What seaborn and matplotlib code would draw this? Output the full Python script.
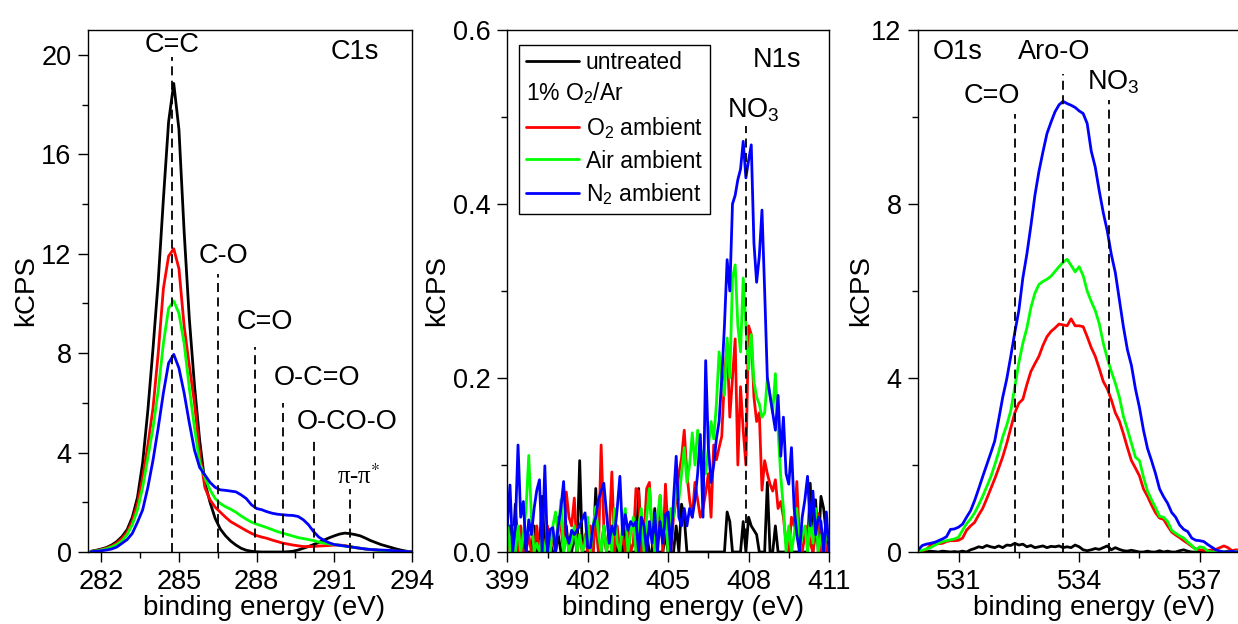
import matplotlib
matplotlib.use('Agg')
import matplotlib.pyplot as plt
from matplotlib.lines import Line2D
from matplotlib.text import Text
from matplotlib.legend_handler import HandlerBase
from matplotlib.ticker import MultipleLocator, FormatStrFormatter
import pandas as pd
import seaborn as sns

# ---------------- data ----------------
samples = ['untreated', 'O$_2$ ambient', 'Air ambient', 'N$_2$ ambient']
treatment_note = '1% O$_2$/Ar'
colors = ['#000000', '#ff0000', '#00ff00', '#0000ff']

c1s_energy = [281.6, 281.8, 282.0, 282.2, 282.4, 282.6, 282.8, 283.0, 283.2, 283.4,
              283.6, 283.8, 284.0, 284.2, 284.4, 284.6, 284.8, 285.0, 285.2, 285.4,
              285.6, 285.8, 286.0, 286.2, 286.4, 286.6, 286.8, 287.0, 287.2, 287.4,
              287.6, 287.8, 288.0, 288.2, 288.4, 288.6, 288.8, 289.0, 289.2, 289.4,
              289.6, 289.8, 290.0, 290.2, 290.4, 290.6, 290.8, 291.0, 291.2, 291.4,
              291.6, 291.8, 292.0, 292.2, 292.4, 292.6, 292.8, 293.0, 293.2, 293.4,
              293.6, 293.8, 294.0]
c1s_untreated = [0.03, 0.07, 0.12, 0.18, 0.28, 0.42, 0.62, 0.9, 1.4, 2.2,
                 3.6, 5.7, 8.2, 10.9, 14.2, 17.3, 18.85, 17.0, 12.9, 9.4,
                 6.7, 4.5, 2.8, 2.0, 1.35, 0.92, 0.65, 0.44, 0.28, 0.15,
                 0.07, 0.03, 0.01, 0.0, 0.0, 0.0, 0.0, 0.0, 0.01, 0.03,
                 0.08, 0.15, 0.22, 0.3, 0.38, 0.48, 0.57, 0.65, 0.72, 0.76,
                 0.74, 0.7, 0.65, 0.56, 0.46, 0.38, 0.3, 0.24, 0.18, 0.12,
                 0.07, 0.03, 0.01]
c1s_o2 = [0.02, 0.05, 0.1, 0.15, 0.24, 0.36, 0.55, 0.8, 1.25, 1.95,
          3.0, 4.3, 5.8, 8.0, 10.6, 11.9, 12.2, 11.4, 9.1, 7.5,
          6.0, 4.0, 2.6, 2.1, 1.8, 1.6, 1.4, 1.22, 1.1, 0.98,
          0.86, 0.75, 0.66, 0.6, 0.55, 0.48, 0.42, 0.36, 0.32, 0.28,
          0.25, 0.22, 0.22, 0.22, 0.24, 0.25, 0.26, 0.28, 0.28, 0.26,
          0.22, 0.18, 0.15, 0.12, 0.1, 0.08, 0.06, 0.05, 0.04, 0.03,
          0.02, 0.01, 0.0]
c1s_air = [0.02, 0.04, 0.08, 0.13, 0.2, 0.3, 0.45, 0.7, 1.1, 1.7,
           2.6, 3.8, 5.0, 6.5, 8.4, 9.8, 10.1, 9.6, 8.4, 6.6,
           5.0, 3.6, 3.0, 2.5, 2.15, 1.95, 1.82, 1.72, 1.6, 1.45,
           1.32, 1.2, 1.12, 1.05, 0.98, 0.9, 0.82, 0.76, 0.7, 0.64,
           0.58, 0.54, 0.5, 0.46, 0.4, 0.36, 0.32, 0.3, 0.27, 0.24,
           0.21, 0.18, 0.15, 0.12, 0.1, 0.08, 0.06, 0.05, 0.04, 0.03,
           0.02, 0.01, 0.0]
c1s_n2 = [0.01, 0.03, 0.05, 0.08, 0.12, 0.2, 0.35, 0.5, 0.75, 1.2,
          1.7, 2.6, 3.7, 5.0, 6.4, 7.6, 7.95, 7.4, 6.4, 5.2,
          4.1, 3.4, 3.1, 2.8, 2.6, 2.5, 2.48, 2.45, 2.42, 2.3,
          2.15, 1.9, 1.75, 1.7, 1.62, 1.56, 1.52, 1.5, 1.48, 1.47,
          1.43, 1.3, 1.1, 0.82, 0.6, 0.47, 0.37, 0.3, 0.27, 0.24,
          0.21, 0.18, 0.15, 0.12, 0.1, 0.09, 0.08, 0.07, 0.06, 0.04,
          0.03, 0.02, 0.0]

n1s_energy = [399.0, 399.1, 399.2, 399.3, 399.4, 399.5, 399.6, 399.7, 399.8, 399.9,
              400.0, 400.1, 400.2, 400.3, 400.4, 400.5, 400.6, 400.7, 400.8, 400.9,
              401.0, 401.1, 401.2, 401.3, 401.4, 401.5, 401.6, 401.7, 401.8, 401.9,
              402.0, 402.1, 402.2, 402.3, 402.4, 402.5, 402.6, 402.7, 402.8, 402.9,
              403.0, 403.1, 403.2, 403.3, 403.4, 403.5, 403.6, 403.7, 403.8, 403.9,
              404.0, 404.1, 404.2, 404.3, 404.4, 404.5, 404.6, 404.7, 404.8, 404.9,
              405.0, 405.1, 405.2, 405.3, 405.4, 405.5, 405.6, 405.7, 405.8, 405.9,
              406.0, 406.1, 406.2, 406.3, 406.4, 406.5, 406.6, 406.7, 406.8, 406.9,
              407.0, 407.1, 407.2, 407.3, 407.4, 407.5, 407.6, 407.7, 407.8, 407.9,
              408.0, 408.1, 408.2, 408.3, 408.4, 408.5, 408.6, 408.7, 408.8, 408.9,
              409.0, 409.1, 409.2, 409.3, 409.4, 409.5, 409.6, 409.7, 409.8, 409.9,
              410.0, 410.1, 410.2, 410.3, 410.4, 410.5, 410.6, 410.7, 410.8, 410.9,
              411.0]
n1s_untreated = [0.02, 0.03, 0.0, 0.055, 0.0, 0.0, 0.02, 0.0, 0.0, 0.0,
                 0.03, 0.0, 0.0, 0.064, 0.0, 0.0, 0.01, 0.0, 0.0, 0.02,
                 0.0, 0.0, 0.03, 0.0, 0.0, 0.02, 0.0, 0.105, 0.0, 0.0,
                 0.0, 0.02, 0.0, 0.073, 0.0, 0.0, 0.03, 0.0, 0.0, 0.0,
                 0.02, 0.0, 0.0, 0.0, 0.04, 0.0, 0.0, 0.0, 0.0, 0.073,
                 0.0, 0.0, 0.02, 0.0, 0.0, 0.05, 0.0, 0.0, 0.0, 0.02,
                 0.0, 0.0, 0.0, 0.03, 0.0, 0.055, 0.04, 0.0, 0.0, 0.0,
                 0.0, 0.0, 0.0, 0.0, 0.0, 0.0, 0.0, 0.0, 0.0, 0.0,
                 0.0, 0.0, 0.046, 0.035, 0.0, 0.0, 0.0, 0.0, 0.035, 0.0,
                 0.04, 0.03, 0.025, 0.02, 0.0, 0.0, 0.0, 0.08, 0.0, 0.0,
                 0.03, 0.0, 0.0, 0.0, 0.0, 0.0, 0.0, 0.0, 0.0, 0.0,
                 0.0, 0.0, 0.0, 0.079, 0.0, 0.06, 0.0, 0.064, 0.05, 0.02,
                 0.0]
n1s_o2 = [0.03, 0.0, 0.0, 0.02, 0.0, 0.03, 0.0, 0.0, 0.02, 0.0,
          0.0, 0.03, 0.0, 0.01, 0.0, 0.03, 0.0, 0.02, 0.0, 0.04,
          0.03, 0.0, 0.069, 0.04, 0.03, 0.062, 0.0, 0.02, 0.0, 0.02,
          0.0, 0.03, 0.0, 0.04, 0.0, 0.123, 0.03, 0.0, 0.02, 0.092,
          0.0, 0.03, 0.0, 0.02, 0.0, 0.03, 0.0, 0.01, 0.073, 0.07,
          0.0, 0.02, 0.073, 0.08, 0.02, 0.0, 0.02, 0.065, 0.0, 0.078,
          0.02, 0.0, 0.04, 0.06, 0.09, 0.108, 0.14, 0.09, 0.06, 0.04,
          0.08, 0.06, 0.04, 0.05, 0.068, 0.09, 0.04, 0.123, 0.106, 0.12,
          0.133, 0.2, 0.24, 0.155, 0.2, 0.245, 0.1, 0.19, 0.14, 0.1,
          0.26, 0.25, 0.178, 0.15, 0.16, 0.071, 0.105, 0.09, 0.078, 0.07,
          0.083, 0.05, 0.058, 0.04, 0.01, 0.0, 0.04, 0.03, 0.081, 0.01,
          0.0, 0.02, 0.03, 0.01, 0.0, 0.02, 0.044, 0.0, 0.02, 0.0,
          0.0]
n1s_air = [0.04, 0.0, 0.029, 0.0, 0.03, 0.0, 0.02, 0.05, 0.111, 0.04,
           0.0, 0.01, 0.0, 0.02, 0.0, 0.01, 0.0, 0.03, 0.046, 0.02,
           0.06, 0.0, 0.02, 0.0, 0.01, 0.03, 0.0, 0.02, 0.0, 0.01,
           0.04, 0.0, 0.03, 0.052, 0.02, 0.0, 0.03, 0.0, 0.02, 0.0,
           0.05, 0.01, 0.0, 0.03, 0.05, 0.0, 0.02, 0.04, 0.0, 0.03,
           0.05, 0.0, 0.04, 0.073, 0.03, 0.0, 0.04, 0.065, 0.02, 0.04,
           0.0, 0.05, 0.04, 0.073, 0.06, 0.09, 0.12, 0.08, 0.1, 0.137,
           0.1, 0.14, 0.12, 0.11, 0.09, 0.12, 0.15, 0.13, 0.17, 0.23,
           0.2, 0.18, 0.246, 0.2, 0.315, 0.33, 0.26, 0.23, 0.315, 0.26,
           0.21, 0.25, 0.196, 0.178, 0.17, 0.155, 0.16, 0.2, 0.18, 0.16,
           0.205, 0.14, 0.087, 0.05, 0.0, 0.03, 0.0, 0.02, 0.05, 0.0,
           0.02, 0.03, 0.0, 0.04, 0.01, 0.05, 0.0, 0.02, 0.0, 0.03,
           0.0]
n1s_n2 = [0.03, 0.077, 0.0, 0.03, 0.123, 0.04, 0.058, 0.0, 0.037, 0.02,
          0.05, 0.071, 0.083, 0.0, 0.099, 0.0, 0.026, 0.028, 0.0, 0.03,
          0.05, 0.081, 0.02, 0.01, 0.025, 0.02, 0.025, 0.03, 0.038, 0.045,
          0.005, 0.005, 0.03, 0.04, 0.06, 0.07, 0.079, 0.045, 0.01, 0.03,
          0.02, 0.05, 0.087, 0.02, 0.043, 0.025, 0.035, 0.03, 0.035, 0.0,
          0.04, 0.03, 0.0, 0.035, 0.01, 0.045, 0.0, 0.035, 0.01, 0.043,
          0.046, 0.0, 0.06, 0.11, 0.04, 0.03, 0.05, 0.03, 0.05, 0.04,
          0.06, 0.09, 0.135, 0.04, 0.22, 0.12, 0.08, 0.1, 0.13, 0.15,
          0.2, 0.26, 0.336, 0.3, 0.4, 0.41, 0.428, 0.44, 0.472, 0.43,
          0.45, 0.468, 0.355, 0.31, 0.34, 0.393, 0.3, 0.2, 0.18, 0.16,
          0.14, 0.18, 0.11, 0.155, 0.09, 0.078, 0.12, 0.05, 0.02, 0.0,
          0.04, 0.06, 0.087, 0.03, 0.07, 0.02, 0.04, 0.035, 0.0, 0.046,
          0.0]

o1s_energy = [530.0, 530.1, 530.2, 530.3, 530.4, 530.5, 530.6, 530.7, 530.8, 530.9,
              531.0, 531.1, 531.2, 531.3, 531.4, 531.5, 531.6, 531.7, 531.8, 531.9,
              532.0, 532.1, 532.2, 532.3, 532.4, 532.5, 532.6, 532.7, 532.8, 532.9,
              533.0, 533.1, 533.2, 533.3, 533.4, 533.5, 533.6, 533.7, 533.8, 533.9,
              534.0, 534.1, 534.2, 534.3, 534.4, 534.5, 534.6, 534.7, 534.8, 534.9,
              535.0, 535.1, 535.2, 535.3, 535.4, 535.5, 535.6, 535.7, 535.8, 535.9,
              536.0, 536.1, 536.2, 536.3, 536.4, 536.5, 536.6, 536.7, 536.8, 536.9,
              537.0, 537.1, 537.2, 537.3, 537.4, 537.5, 537.6, 537.7, 537.8, 537.9,
              538.0]
o1s_untreated = [0.02, 0.01, 0.0, 0.02, 0.01, 0.0, 0.02, 0.01, 0.0, 0.01,
                 0.0, 0.02, 0.0, 0.05, 0.08, 0.12, 0.1, 0.15, 0.12, 0.1,
                 0.14, 0.1, 0.16, 0.15, 0.2, 0.16, 0.18, 0.12, 0.15, 0.1,
                 0.12, 0.14, 0.1, 0.13, 0.12, 0.14, 0.1, 0.12, 0.1, 0.16,
                 0.12, 0.05, 0.03, 0.05, 0.08, 0.06, 0.1, 0.14, 0.05, 0.1,
                 0.06, 0.03, 0.02, 0.04, 0.02, 0.0, 0.0, 0.02, 0.0, 0.0,
                 0.03, 0.0, 0.02, 0.0, 0.0, 0.03, 0.05, 0.02, 0.0, 0.0,
                 0.0, 0.02, 0.0, 0.0, 0.03, 0.0, 0.0, 0.02, 0.0, 0.0,
                 0.0]
o1s_o2 = [0.0, 0.02, 0.06, 0.15, 0.22, 0.19, 0.2, 0.24, 0.26, 0.26,
          0.27, 0.32, 0.5, 0.6, 0.68, 0.85, 1.0, 1.22, 1.45, 1.68,
          1.93, 2.19, 2.5, 2.85, 3.2, 3.42, 3.51, 3.85, 4.15, 4.33,
          4.5, 4.75, 4.95, 5.07, 5.15, 5.24, 5.22, 5.2, 5.36, 5.2,
          5.2, 5.18, 4.95, 4.7, 4.5, 4.22, 3.92, 3.75, 3.5, 3.2,
          3.01, 2.72, 2.4, 2.1, 1.93, 1.75, 1.45, 1.28, 1.08, 0.9,
          0.78, 0.75, 0.6, 0.46, 0.39, 0.33, 0.26, 0.2, 0.13, 0.07,
          0.05, 0.04, 0.03, 0.05, 0.06, 0.1, 0.14, 0.1, 0.03, 0.05,
          0.04]
o1s_air = [0.02, 0.04, 0.07, 0.1, 0.15, 0.2, 0.24, 0.26, 0.28, 0.3,
           0.34, 0.5, 0.65, 0.76, 0.9, 1.08, 1.28, 1.5, 1.72, 2.0,
           2.3, 2.65, 2.92, 3.25, 3.8, 4.35, 4.8, 5.15, 5.62, 5.95,
           6.15, 6.22, 6.27, 6.34, 6.45, 6.56, 6.66, 6.73, 6.59, 6.44,
           6.56, 6.35, 6.0, 5.76, 5.55, 5.25, 4.8, 4.45, 4.15, 3.88,
           3.56, 3.12, 2.82, 2.5, 2.18, 2.1, 1.72, 1.4, 1.2, 1.02,
           0.82, 0.8, 0.7, 0.5, 0.43, 0.37, 0.32, 0.23, 0.15, 0.05,
           0.12, 0.1, 0.02, 0.0, 0.0, 0.02, 0.0, 0.0, 0.0, 0.01,
           0.0]
o1s_n2 = [0.05, 0.15, 0.18, 0.2, 0.22, 0.26, 0.3, 0.35, 0.52, 0.53,
          0.57, 0.64, 0.8, 0.95, 1.18, 1.45, 1.73, 2.0, 2.27, 2.55,
          3.05, 3.56, 3.98, 4.5, 5.05, 5.55, 6.3, 6.85, 7.5, 8.2,
          8.75, 9.2, 9.62, 9.88, 10.12, 10.28, 10.36, 10.31, 10.27, 10.22,
          10.14, 10.08, 9.85, 9.22, 8.85, 8.3, 7.8, 7.38, 6.84, 6.42,
          5.8, 5.18, 4.65, 4.29, 3.75, 3.32, 2.8, 2.38, 2.1, 1.8,
          1.45, 1.27, 1.12, 0.91, 0.8, 0.62, 0.52, 0.47, 0.32, 0.27,
          0.26, 0.24, 0.17, 0.11, 0.05, 0.02, 0.0, 0.0, 0.02, 0.0,
          0.0]

# peak assignments: label, energy, top of dashed marker
c1s_marks = ['C=C', 'C-O', 'C=O', 'O-C=O', 'O-CO-O', 'π-π$^{*}$']
c1s_mark_energy = [284.75, 286.5, 287.92, 289.0, 290.2, 291.6]
c1s_mark_top = [19.9, 11.2, 8.25, 6.0, 4.55, 2.55]
n1s_mark_energy = [407.92]
n1s_mark_top = [0.49]
o1s_marks = ['C=O', 'Aro-O', 'NO$_3$']
o1s_mark_energy = [532.41, 533.61, 534.73]
o1s_mark_top = [10.08, 11.0, 10.4]

# ---------------- style ----------------
sns.set_style('ticks', rc={'axes.edgecolor': 'black', 'xtick.color': 'black',
                           'ytick.color': 'black', 'text.color': 'black',
                           'axes.labelcolor': 'black'})
plt.rcParams['font.family'] = ['Liberation Sans', 'DejaVu Sans']
plt.rcParams['mathtext.fontset'] = 'custom'
plt.rcParams['mathtext.rm'] = 'Liberation Sans'
plt.rcParams['mathtext.it'] = 'Liberation Sans:italic'
plt.rcParams['mathtext.bf'] = 'Liberation Sans:bold'

W, H = 1238, 624
fig = plt.figure(figsize=(W / 100, H / 100), dpi=100)
ax1 = fig.add_axes([88.3 / W, 72 / H, 323.7 / W, 522 / H])
ax2 = fig.add_axes([507.3 / W, 72 / H, 321.7 / W, 522 / H])
ax3 = fig.add_axes([918.3 / W, 72 / H, 321.7 / W, 522 / H])

LW = 2.0


def long_df(energy, series):
    parts = [pd.DataFrame({'E': energy, 'kCPS': vals, 'sample': name})
             for name, vals in zip(samples, series)]
    return pd.concat(parts, ignore_index=True)


panels = [
    (ax1, long_df(c1s_energy, [c1s_untreated, c1s_o2, c1s_air, c1s_n2]), (281.5, 294), (0, 21), 4, -0.1517, 0.543),
    (ax2, long_df(n1s_energy, [n1s_untreated, n1s_o2, n1s_air, n1s_n2]), (399, 411), (0, 0.6), 0.2, -0.178, 0.545),
    (ax3, long_df(o1s_energy, [o1s_untreated, o1s_o2, o1s_air, o1s_n2]), (530, 538), (0, 12), 4, -0.137, 0.545),
]

for ax, df, xlim, ylim, ymaj, ylab_x, xlab_x in panels:
    sns.lineplot(data=df, x='E', y='kCPS', hue='sample', hue_order=samples,
                 palette=colors, estimator=None, sort=False, legend=False,
                 ax=ax, linewidth=LW)
    ax.set_xlim(*xlim)
    ax.set_ylim(*ylim)
    ax.xaxis.set_major_locator(MultipleLocator(3))
    ax.xaxis.set_minor_locator(MultipleLocator(1.5))
    ax.yaxis.set_major_locator(MultipleLocator(ymaj))
    ax.yaxis.set_minor_locator(MultipleLocator(ymaj / 2))
    ax.tick_params(which='both', direction='out', top=False, right=False,
                   width=1.0, labelsize=19.5, pad=5)
    ax.tick_params(which='major', length=7)
    ax.tick_params(which='minor', length=4)
    for s in ax.spines.values():
        s.set_visible(True)
        s.set_linewidth(1.0)
        s.set_color('black')
    ax.set_xlabel('binding energy (eV)', fontsize=20)
    ax.set_ylabel('kCPS', fontsize=20)
    ax.xaxis.set_label_coords(xlab_x, -0.082)
    ax.yaxis.set_label_coords(ylab_x, 0.5)

ax2.yaxis.set_major_formatter(FormatStrFormatter('%.1f'))

dash = (0, (5, 3))
ax1.vlines(c1s_mark_energy, 0, c1s_mark_top, colors='black', linestyles=dash, lw=1.3, zorder=4)
ax2.vlines(n1s_mark_energy, 0, n1s_mark_top, colors='black', linestyles=dash, lw=1.3, zorder=4)
ax3.vlines(o1s_mark_energy, 0, o1s_mark_top, colors='black', linestyles=dash, lw=1.3, zorder=4)

fs = 19.5
# C1s labels
ax1.text(284.73, 20.4, c1s_marks[0], ha='center', va='center', fontsize=fs)
ax1.text(291.78, 20.12, 'C1s', ha='center', va='center', fontsize=fs)
ax1.text(286.7, 11.9, c1s_marks[1], ha='center', va='center', fontsize=fs)
ax1.text(288.33, 9.26, c1s_marks[2], ha='center', va='center', fontsize=fs)
ax1.text(290.35, 7.0, c1s_marks[3], ha='center', va='center', fontsize=fs)
ax1.text(291.49, 5.23, c1s_marks[4], ha='center', va='center', fontsize=fs)
ax1.text(291.93, 3.05, c1s_marks[5], ha='center', va='center', fontsize=18,
         family='Liberation Serif', math_fontfamily='stix')
# N1s labels
ax2.text(409.06, 0.566, 'N1s', ha='center', va='center', fontsize=fs)
ax2.text(407.2, 0.50, 'NO$_3$', ha='left', va='baseline', fontsize=fs)
# O1s labels
ax3.text(530.98, 11.5, 'O1s', ha='center', va='center', fontsize=fs)
ax3.text(533.37, 11.5, o1s_marks[1], ha='center', va='center', fontsize=fs)
ax3.text(531.83, 10.49, o1s_marks[0], ha='center', va='center', fontsize=fs)
ax3.text(534.2, 10.63, o1s_marks[2], ha='left', va='baseline', fontsize=fs)


# legend: a text-only row for the treatment note, left-aligned with the line handles
class NoteHandler(HandlerBase):
    def __init__(self, note):
        super().__init__()
        self.note = note

    def create_artists(self, legend, orig_handle, xdescent, ydescent, width,
                       height, fontsize, trans):
        t = Text(-xdescent, -ydescent + height / 2, self.note, ha='left',
                 va='center', fontsize=fontsize, color='black')
        t.set_transform(trans)
        return [t]


note_handle = Line2D([], [], color='none')
handles = [Line2D([], [], color=colors[0], lw=LW), note_handle,
           Line2D([], [], color=colors[1], lw=LW),
           Line2D([], [], color=colors[2], lw=LW),
           Line2D([], [], color=colors[3], lw=LW)]
labels = [samples[0], '', samples[1], samples[2], samples[3]]
leg = ax2.legend(handles, labels, loc='upper left', bbox_to_anchor=(0.037, 0.972),
                 borderaxespad=0, fancybox=False, framealpha=1, edgecolor='black',
                 fontsize=16.5, handlelength=2.3, handletextpad=0.3,
                 labelspacing=0.38, borderpad=0.3,
                 handler_map={note_handle: NoteHandler(treatment_note)})
leg.get_frame().set_linewidth(1.0)

fig.savefig('out.png', dpi=100)
